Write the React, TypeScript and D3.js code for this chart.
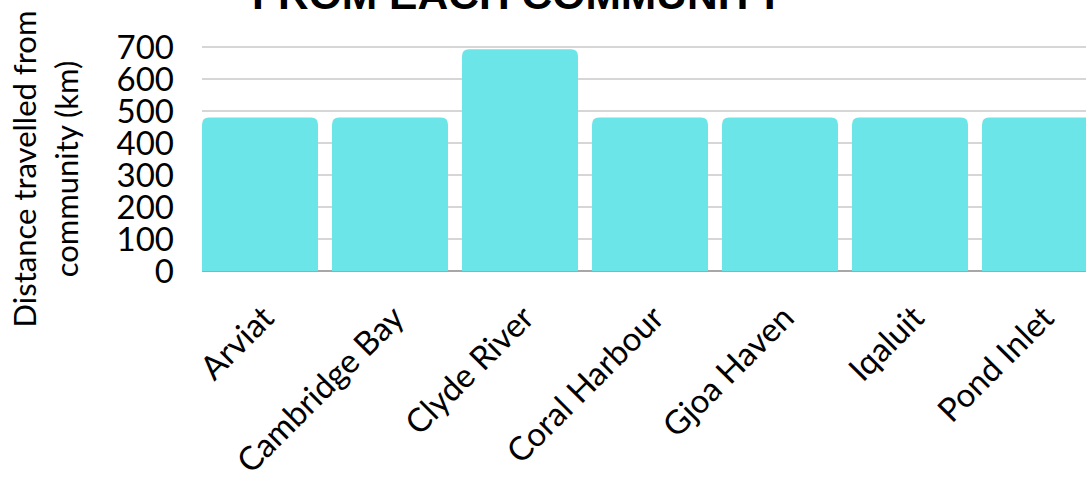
import React from "react";
import * as d3 from "d3";

const communities = ["Arviat", "Cambridge Bay", "Clyde River", "Coral Harbour", "Gjoa Haven", "Iqaluit", "Pond Inlet"];
const distances = [480, 480, 693, 480, 480, 480, 480];
const yTicks = [0, 100, 200, 300, 400, 500, 600, 700];
const titleLine = "FROM EACH COMMUNITY";
const yTitleLines = ["Distance travelled from", "community (km)"];

const W = 1086;
const H = 477;
const FONT = "Lato, 'Noto Sans', sans-serif";

function roundedTopBar(x: number, y: number, w: number, h: number, r: number) {
  const rr = Math.min(r, h, w / 2);
  return `M${x},${y + h}V${y + rr}Q${x},${y} ${x + rr},${y}H${x + w - rr}Q${x + w},${y} ${x + w},${y + rr}V${y + h}Z`;
}

export default function App() {
  const x = d3.scaleBand<string>().domain(communities).range([202, 1098]).paddingInner(14 / 130).paddingOuter(0);
  const y = d3.scaleLinear().domain([0, 700]).range([271, 47]);
  const bw = x.bandwidth();

  return (
    <svg width={W} height={H} style={{ position: "absolute", left: 0, top: 0, background: "#fff" }}>
      <text x={518} y={9} textAnchor="middle" fontFamily="'Liberation Sans', Arial, sans-serif" fontWeight="bold" fontSize={41} textLength={532} lengthAdjust="spacingAndGlyphs" fill="#000">
        {titleLine}
      </text>
      {yTicks.filter((t) => t > 0).map((t) => (
        <line key={t} x1={202} x2={W} y1={y(t)} y2={y(t)} stroke="#c8c8c8" strokeWidth={1.5} />
      ))}
      <line x1={202} x2={W} y1={y(0)} y2={y(0)} stroke="#8a8a8a" strokeWidth={1.5} />
      {communities.map((c, i) => {
        const x0 = x(c)!;
        const yTop = y(distances[i]);
        return <path key={c} d={roundedTopBar(x0, yTop, bw, y(0) - yTop, 7)} fill="#6ce5e8" />;
      })}
      {yTicks.map((t) => (
        <text key={t} x={174} y={y(t)} dy="0.36em" textAnchor="end" fontFamily={FONT} fontSize={33} fill="#000">
          {t}
        </text>
      ))}
      {yTitleLines.map((l, i) => (
        <text key={i} transform={`translate(${36 + i * 42},169) rotate(-90)`} textAnchor="middle" fontFamily={FONT} fontSize={31} fill="#000">
          {l}
        </text>
      ))}
      {communities.map((c) => (
        <text key={c} transform={`translate(${x(c)! + bw / 2 + 16},320) rotate(-45)`} textAnchor="end" fontFamily={FONT} fontSize={33} fill="#000">
          {c}
        </text>
      ))}
    </svg>
  );
}
